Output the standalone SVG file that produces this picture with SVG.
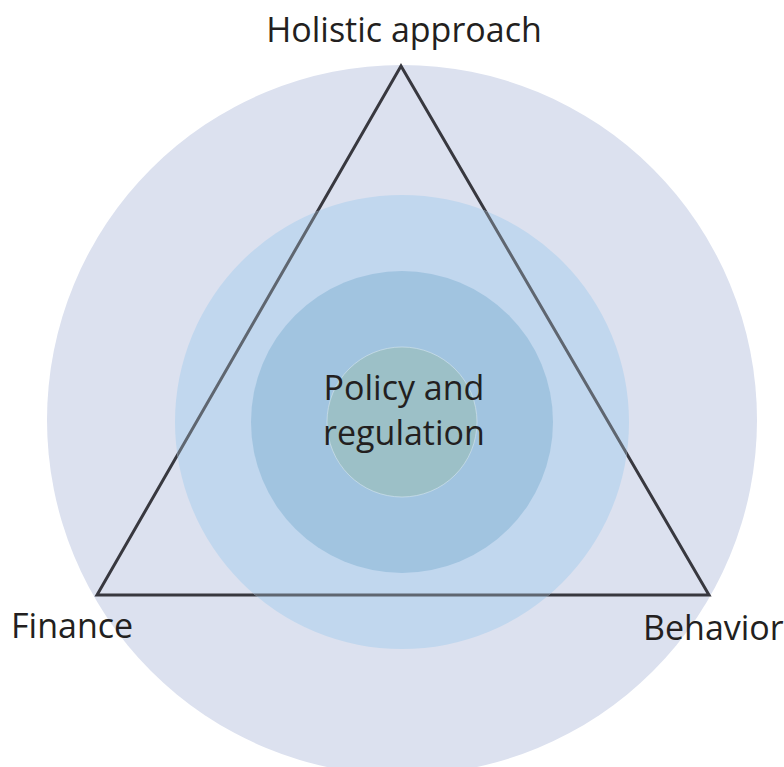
<svg xmlns="http://www.w3.org/2000/svg" width="784" height="767" viewBox="0 0 784 767">
<style>
.lbl{font-family:"Open Sans","Noto Sans","Liberation Sans",sans-serif;font-size:34px;fill:#231f20}
.tri{fill:none;stroke-width:3;stroke-linejoin:miter}
</style>
<defs>
<clipPath id="midclip"><circle cx="402" cy="422" r="227"/></clipPath>
</defs>
<rect width="784" height="767" fill="#ffffff"/>
<g id="outer-ring"><circle cx="402" cy="420" r="355" fill="#dce1ef"/></g>
<g id="connectors">
<polygon class="tri" points="401,66 97,595 709,595" stroke="#38383f"/>
</g>
<g id="middle-ring"><circle cx="402" cy="422" r="227" fill="#c1d7ee"/>
<polygon class="tri" points="401,66 97,595 709,595" stroke="#5f6670" clip-path="url(#midclip)"/></g>
<g id="inner-ring"><circle cx="402" cy="422" r="151" fill="#a1c4e0"/></g>
<g id="policy"><circle cx="402" cy="422" r="75" fill="#9cc0c7" stroke="#d6e6ee" stroke-width="0.6"/>
<text class="lbl" x="404" y="400" text-anchor="middle">Policy and</text>
<text class="lbl" x="404" y="445" text-anchor="middle">regulation</text></g>
<g id="holistic"><text class="lbl" x="404" y="42" text-anchor="middle">Holistic approach</text></g>
<g id="finance"><text class="lbl" x="11" y="638">Finance</text></g>
<g id="behavior"><text class="lbl" x="643" y="640">Behavior</text></g>
</svg>
